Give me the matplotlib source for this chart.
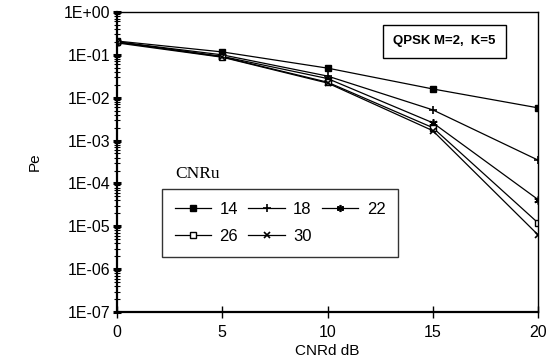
import matplotlib.pyplot as plt
from matplotlib.ticker import LogLocator, FixedLocator, NullFormatter

# CNRd (dB) on the x axis
cnrd = [0, 5, 10, 15, 20]

# Pe for each CNRu value
pe_14 = [0.21, 0.117, 0.049, 0.016, 0.0058]
pe_18 = [0.20, 0.100, 0.032, 0.0052, 3.5e-4]
pe_22 = [0.20, 0.092, 0.028, 0.0026, 4.2e-5]
pe_26 = [0.20, 0.090, 0.023, 0.0020, 1.2e-5]
pe_30 = [0.19, 0.088, 0.022, 0.0017, 6.3e-6]

ytick_labels = ['1E-07', '1E-06', '1E-05', '1E-04', '1E-03', '1E-02', '1E-01', '1E+00']

plt.rcParams['font.family'] = ['Liberation Sans', 'DejaVu Sans']

fig = plt.figure(figsize=(5.53, 3.6), dpi=100)
ax = fig.add_axes([0.2116, 0.1333, 0.7614, 0.8334])

lw = 0.9
ax.plot(cnrd, pe_14, color='black', lw=lw, marker='s', ms=5, label='14')
ax.plot(cnrd, pe_18, color='black', lw=lw, marker='+', ms=6, mew=1.2, label='18')
ax.plot(cnrd, pe_22, color='black', lw=lw, marker=(6, 2, 0), ms=6, mew=1.2, label='22')
ax.plot(cnrd, pe_26, color='black', lw=lw, marker='s', ms=5, mfc='white', label='26')
ax.plot(cnrd, pe_30, color='black', lw=lw, marker='x', ms=5, mew=1.2, label='30')

ax.set_yscale('log')
ax.set_ylim(1e-7, 1)
ax.set_xlim(0, 20)
ax.set_xticks([0, 5, 10, 15, 20])
ax.yaxis.set_major_locator(FixedLocator([10.0 ** k for k in range(-7, 1)]))
ax.set_yticklabels(ytick_labels)
ax.yaxis.set_minor_locator(LogLocator(base=10, subs=range(2, 10), numticks=20))
ax.yaxis.set_minor_formatter(NullFormatter())

ax.tick_params(axis='both', labelsize=11.5, color='black')
ax.tick_params(axis='y', which='major', direction='inout', length=6, width=2.2, pad=2)
ax.tick_params(axis='y', which='minor', direction='inout', length=4, width=0.8)
ax.tick_params(axis='x', which='major', direction='inout', length=8, width=1, pad=5)
for s in ax.spines.values():
    s.set_linewidth(1.0)
ax.spines['left'].set_linewidth(1.6)
ax.spines['bottom'].set_linewidth(1.6)

ax.set_xlabel('CNRd dB', fontsize=11, labelpad=3)
ax.set_ylabel('Pe', fontsize=11, labelpad=16)

handles, labels = ax.get_legend_handles_labels()
order = [0, 3, 1, 4, 2]
leg = ax.legend([handles[i] for i in order], [labels[i] for i in order],
                ncol=3, loc='upper left', bbox_to_anchor=(0.107, 0.41),
                borderaxespad=0, fontsize=12, frameon=True, fancybox=False,
                edgecolor='black', handlelength=2.2, columnspacing=0.6,
                handletextpad=0.5, borderpad=0.75, labelspacing=0.75,
                markerscale=0.85)
leg.get_frame().set_linewidth(1.0)

ax.text(0.138, 0.447, 'CNRu', transform=ax.transAxes, fontsize=12.5,
        family='Liberation Serif', ha='left', va='baseline')

ax.text(0.778, 0.902, 'QPSK M=2,  K=5', transform=ax.transAxes, fontsize=9.5,
        fontweight='bold', ha='center', va='center',
        bbox=dict(boxstyle='square,pad=0.8', fc='white', ec='black', lw=1.0))

fig.savefig('out.png', dpi=100)
